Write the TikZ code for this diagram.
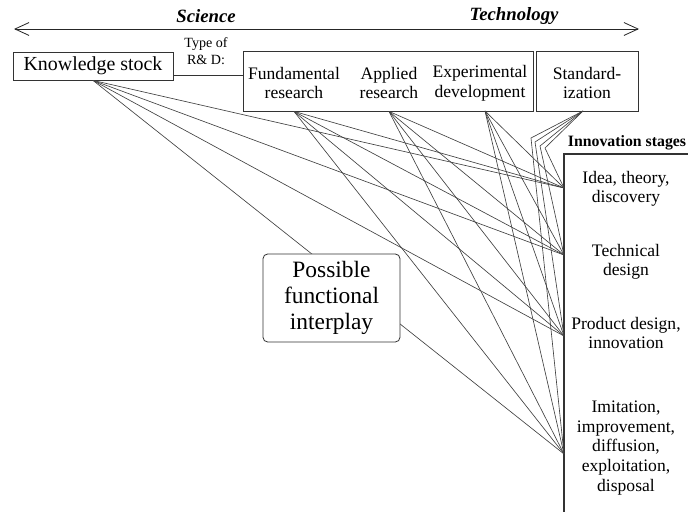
\documentclass[tikz,border=0pt]{standalone}
\usepackage{fontspec}
\setmainfont{Liberation Serif}
\usetikzlibrary{arrows.meta}
\begin{document}
\begin{tikzpicture}[x=0.03cm,y=-0.03cm,
	box/.style={draw=black!80, line width=0.7pt, fill=white, inner sep=0pt},
	txt/.style={font=\fontsize{15}{16.5}\selectfont, align=center, inner sep=0pt},
	link/.style={draw=black!75, line width=0.55pt},
	axis/.style={font=\fontsize{16}{18}\selectfont\bfseries\itshape, inner sep=0pt}]
	\useasboundingbox (0,0) rectangle (688,517);
	\node (sci) at (206, 16)	[axis]	{Science};
	\node (tec) at (514, 16)	[axis]	{Technology};
	\coordinate (axl) at (14, 29);
	\coordinate (axr) at (639, 29);
	\draw[black!85, line width=0.7pt, {Straight Barb[length=12pt,width=11pt]}-{Straight Barb[length=12pt,width=11pt]}] (axl) -- (axr);
	\node (ks) at (93, 66)	[box, minimum width=4.8cm, minimum height=0.84cm, font=\fontsize{17}{19}\selectfont]	{Knowledge stock};
	\node (rd) at (388, 81)	[box, minimum width=8.7cm, minimum height=1.8cm]	{};
	\node (sd) at (587, 81)	[box, minimum width=3.06cm, minimum height=1.8cm]	{};
	\node (typ) at (206, 51)	[txt, font=\fontsize{12}{15}\selectfont]	{Type of\\R\&{} D:};
	\node (fr) at (294, 83)	[txt, font=\fontsize{15}{17}\selectfont]	{Fundamental\\research};
	\node (ar) at (389, 83)	[txt, font=\fontsize{15}{17}\selectfont]	{Applied\\research};
	\node (ed) at (480, 83)	[txt, font=\fontsize{15}{17}\selectfont]	{Experimental\\development};
	\node (sz) at (587, 83)	[txt, font=\fontsize{15}{17}\selectfont]	{Standard-\\ization};
	\draw[black!80, line width=0.7pt] ([yshift=-0.27cm]ks.east) -- ([yshift=-0.27cm]ks.east -| rd.west);
	\node (ist) at (627, 143)	[inner sep=0pt, font=\fontsize{13.5}{15}\selectfont\bfseries]	{Innovation stages};
	\coordinate (frm) at (564, 154);
	\draw[black!80, line width=0.9pt] (688, 154) -- (frm) -- (564, 512);
	\node (idea) at (626, 189)	[txt]	{Idea, theory,\\discovery};
	\node (tdes) at (626, 262)	[txt]	{Technical\\design};
	\node (pdes) at (626, 333)	[txt]	{Product design,\\innovation};
	\node (imit) at (626, 448)	[txt, font=\fontsize{15}{17}\selectfont]	{Imitation,\\improvement,\\diffusion,\\exploitation,\\disposal};
	\coordinate (st1) at (564, 188);
	\coordinate (st2) at (564, 255);
	\coordinate (st3) at (564, 336);
	\coordinate (st4) at (564, 454);
	\coordinate (fr-out) at (fr |- rd.south);
	\coordinate (ar-out) at (ar |- rd.south);
	\coordinate (ed-out) at (485, 111);
	\coordinate (sz-out) at (583, 111);
	\coordinate (b1) at (531, 138);
	\coordinate (b2) at (535, 142);
	\coordinate (b3) at (540, 146);
	\coordinate (b4) at (545, 148);
	\foreach \src in {ks.south, fr-out, ar-out, ed-out}
		\foreach \dst in {st1, st2, st3, st4}
			\draw[link] (\src) -- (\dst);
	\foreach \bend/\dst in {b1/st4, b2/st3, b3/st2, b4/st1}
		\draw[link] (sz-out) -- (\bend) -- (\dst);
	\node (pfi) at (331.5, 298)	[box, rounded corners=4pt, minimum width=4.11cm, minimum height=2.64cm, align=center, font=\fontsize{20}{22}\selectfont]	{Possible\\functional\\interplay};
\end{tikzpicture}
\end{document}
